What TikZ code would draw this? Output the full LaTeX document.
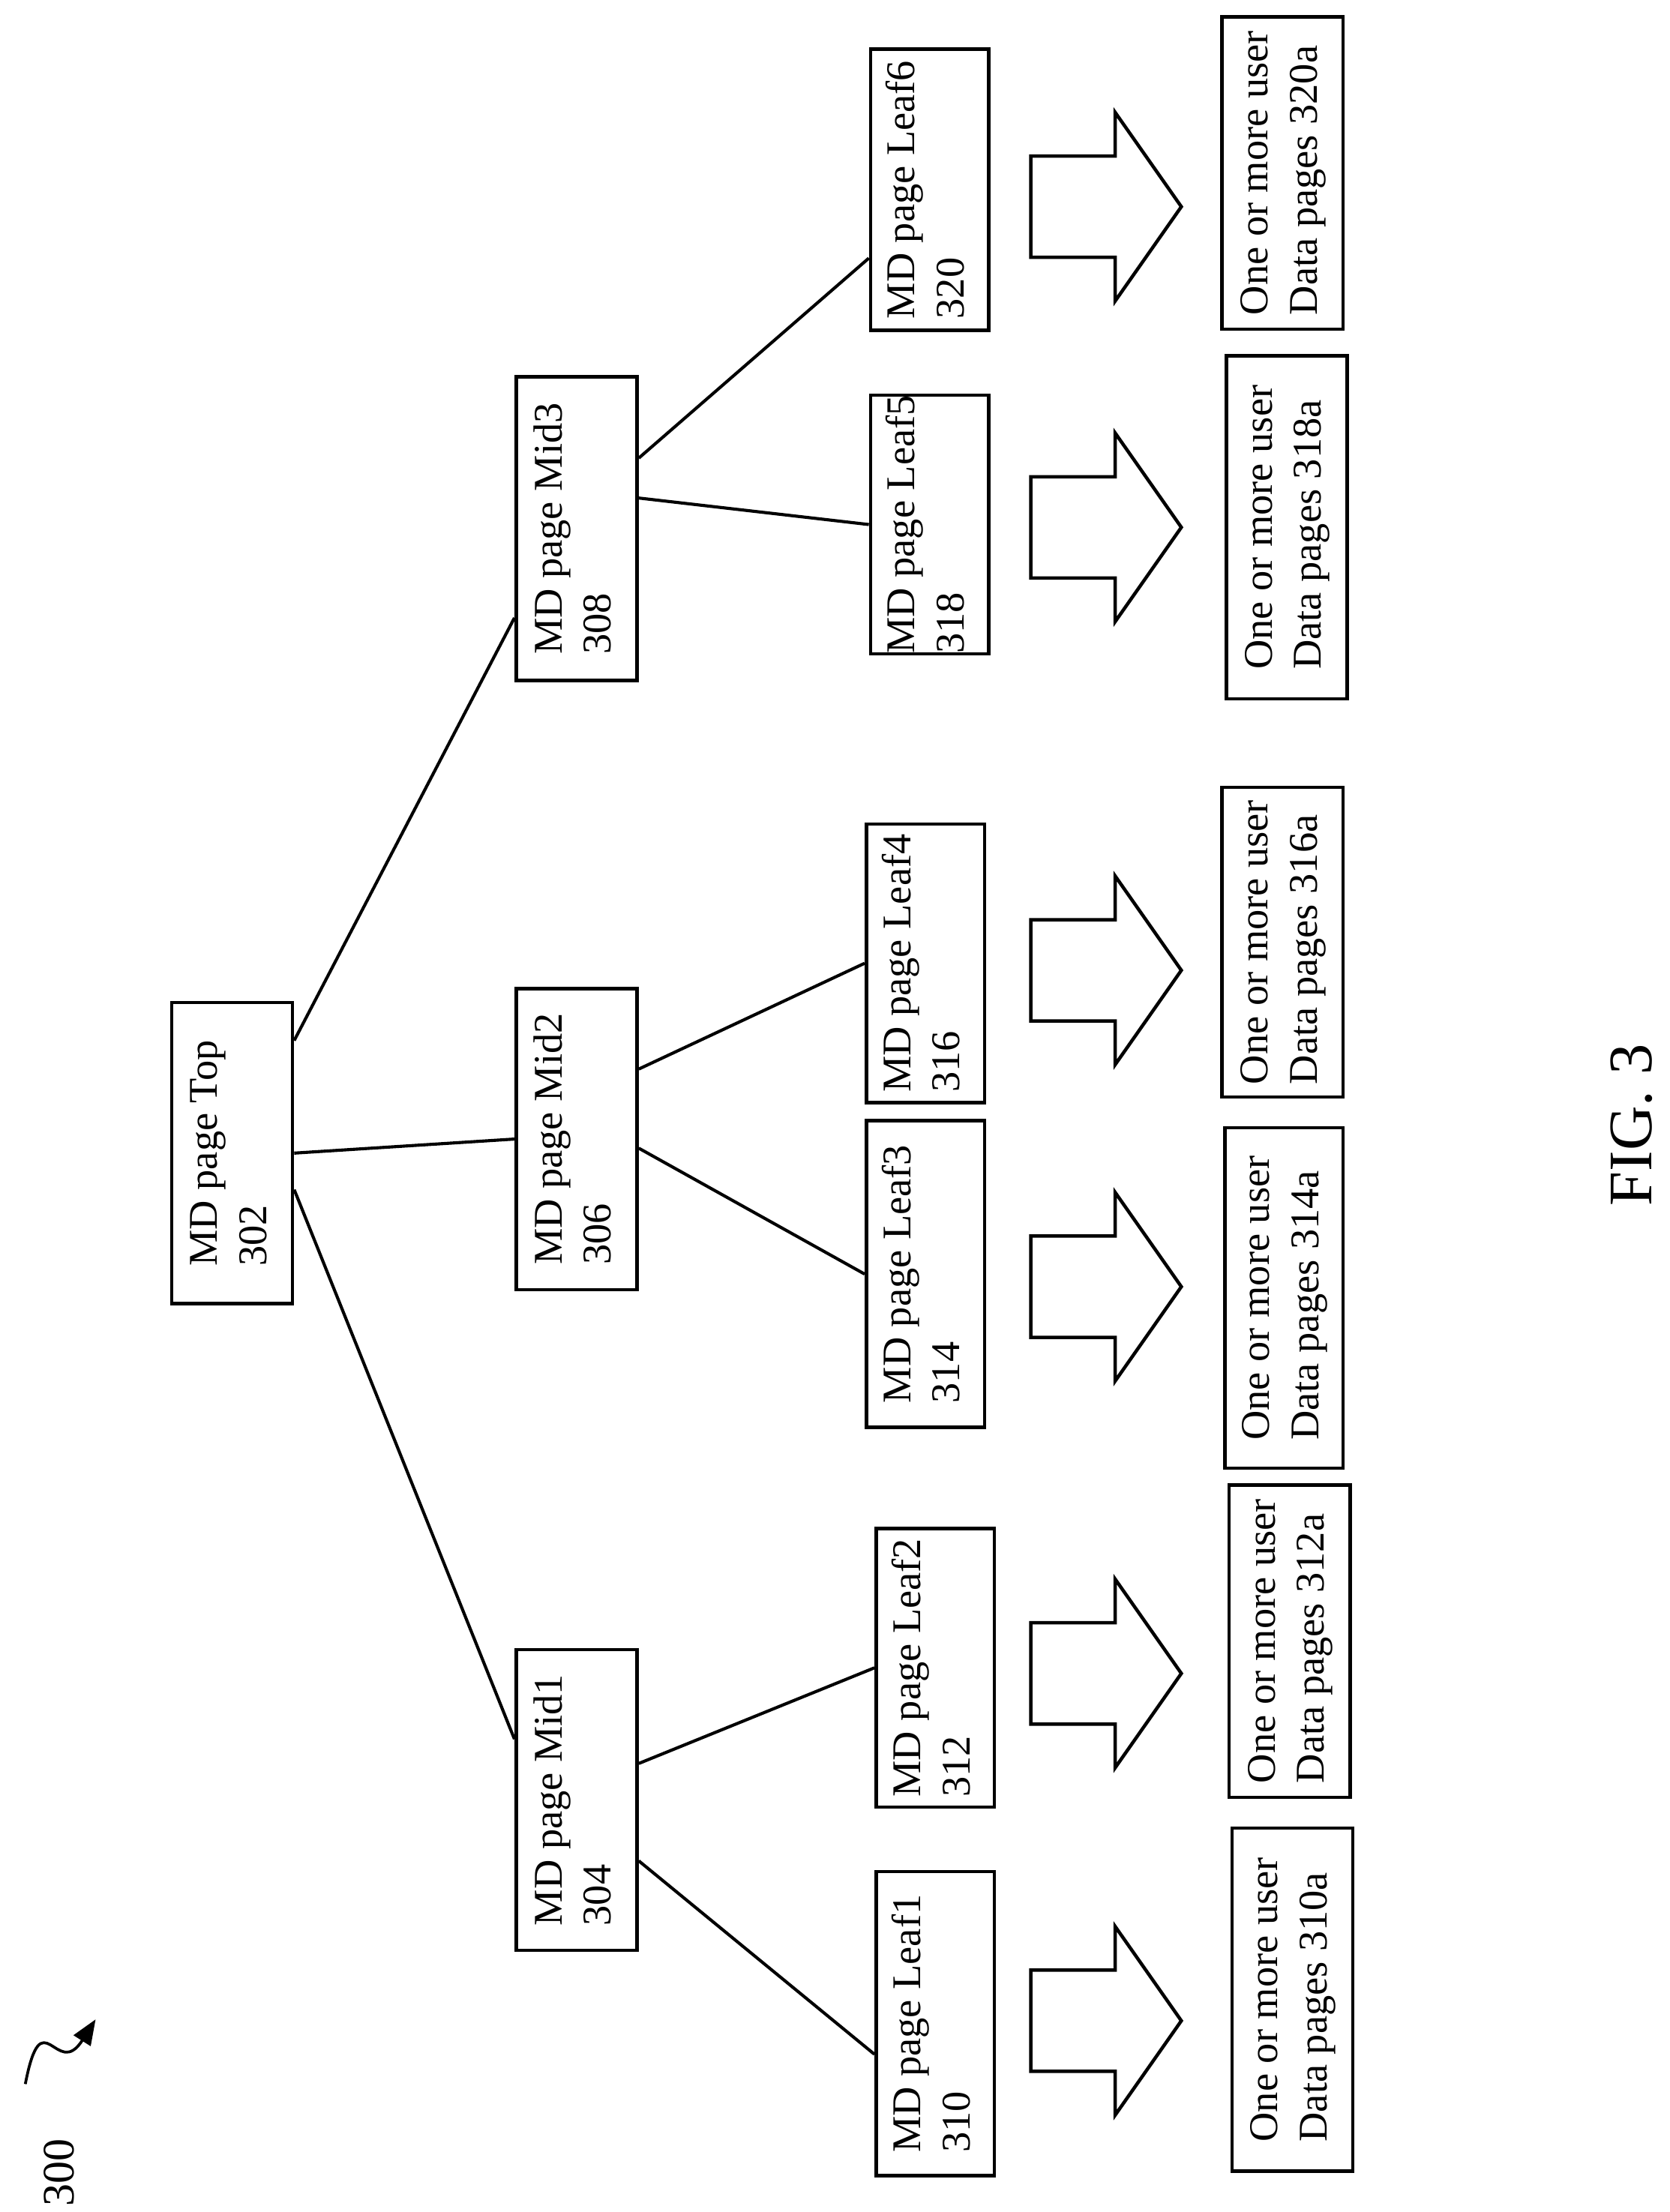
\documentclass[tikz,border=0pt]{standalone}
\usepackage{fontspec}
\setmainfont{Liberation Serif}
\usetikzlibrary{calc,arrows.meta}

\tikzset{
  page/.style={draw, line width=1.2pt, inner sep=0pt, font=\fontsize{14.5}{17.5}\selectfont},
  link/.style={line width=1.1pt},
}
\newcommand{\rtxt}[2]{\rotatebox{90}{\begin{tabular}{@{}l@{}}#1\\#2\end{tabular}}}

\begin{document}
\begin{tikzpicture}[x=0.5pt,y=-0.5pt]
  \useasboundingbox (0,0) rectangle (1187,1573);
  % MD pages
  \node[page, minimum width=43pt, minimum height=107pt] (top) at (165,820) {\rtxt{MD page Top}{302}};
  \node[page, minimum width=43pt, minimum height=107pt] (mid1) at (410,1280) {\rtxt{MD page Mid1}{304}};
  \node[page, minimum width=43pt, minimum height=107pt] (mid2) at (410,810) {\rtxt{MD page Mid2}{306}};
  \node[page, minimum width=43pt, minimum height=108pt] (mid3) at (410,376) {\rtxt{MD page Mid3}{308}};
  \node[page, minimum width=42pt, minimum height=108pt] (leaf1) at (665,1439) {\rtxt{MD page Leaf1}{310}};
  \node[page, minimum width=42pt, minimum height=99pt] (leaf2) at (665,1186) {\rtxt{MD page Leaf2}{312}};
  \node[page, minimum width=42pt, minimum height=109pt] (leaf3) at (658,906) {\rtxt{MD page Leaf3}{314}};
  \node[page, minimum width=42pt, minimum height=99pt] (leaf4) at (658,685) {\rtxt{MD page Leaf4}{316}};
  \node[page, minimum width=42pt, minimum height=92pt] (leaf5) at (661,373) {\rtxt{MD page Leaf5}{318}};
  \node[page, minimum width=42pt, minimum height=100pt] (leaf6) at (661,135) {\rtxt{MD page Leaf6}{320}};
  % user data pages
  \node[page, minimum width=43pt, minimum height=122pt] (data1) at (919,1422) {\rtxt{One or more user}{Data pages 310a}};
  \node[page, minimum width=43pt, minimum height=111pt] (data2) at (917,1167) {\rtxt{One or more user}{Data pages 312a}};
  \node[page, minimum width=42pt, minimum height=121pt] (data3) at (913,923) {\rtxt{One or more user}{Data pages 314a}};
  \node[page, minimum width=43pt, minimum height=110pt] (data4) at (912,670) {\rtxt{One or more user}{Data pages 316a}};
  \node[page, minimum width=43pt, minimum height=122pt] (data5) at (915,375) {\rtxt{One or more user}{Data pages 318a}};
  \node[page, minimum width=43pt, minimum height=111pt] (data6) at (912,123) {\rtxt{One or more user}{Data pages 320a}};

  % tree links
  \draw[link] ($(top.north east)!0.13!(top.south east)$) -- ($(mid3.north west)!0.79!(mid3.south west)$);
  \draw[link] (top.east) -- (mid2.west);
  \draw[link] ($(top.north east)!0.62!(top.south east)$) -- ($(mid1.north west)!0.3!(mid1.south west)$);
  \draw[link] ($(mid1.north east)!0.7!(mid1.south east)$) -- ($(leaf1.north west)!0.6!(leaf1.south west)$);
  \draw[link] ($(mid1.north east)!0.38!(mid1.south east)$) -- (leaf2.west);
  \draw[link] ($(mid2.north east)!0.53!(mid2.south east)$) -- ($(leaf3.north west)!0.5!(leaf3.south west)$);
  \draw[link] ($(mid2.north east)!0.27!(mid2.south east)$) -- (leaf4.west);
  \draw[link] ($(mid3.north east)!0.40!(mid3.south east)$) -- ($(leaf5.north west)!0.5!(leaf5.south west)$);
  \draw[link] ($(mid3.north east)!0.27!(mid3.south east)$) -- ($(leaf6.north west)!0.74!(leaf6.south west)$);

  % hollow arrows
  \foreach \y in {1437,1190,915,690,375,147}
    \draw[line width=1.2pt] (733,\y-36) -- (793,\y-36) -- (793,\y-67) -- (840,\y)
      -- (793,\y+67) -- (793,\y+36) -- (733,\y+36) -- cycle;

  % reference label
  \node[font=\fontsize{16}{18}\selectfont, rotate=90] (ref) at (42,1545) {300};
  \draw[line width=1pt, -{Triangle[length=9pt,width=7pt]}] (18,1482) .. controls (30,1420) and (40,1480) .. (68,1436);
  \node[font=\fontsize{22}{24}\selectfont, rotate=90] (fig) at (1160,800) {FIG. 3};
\end{tikzpicture}
\end{document}
